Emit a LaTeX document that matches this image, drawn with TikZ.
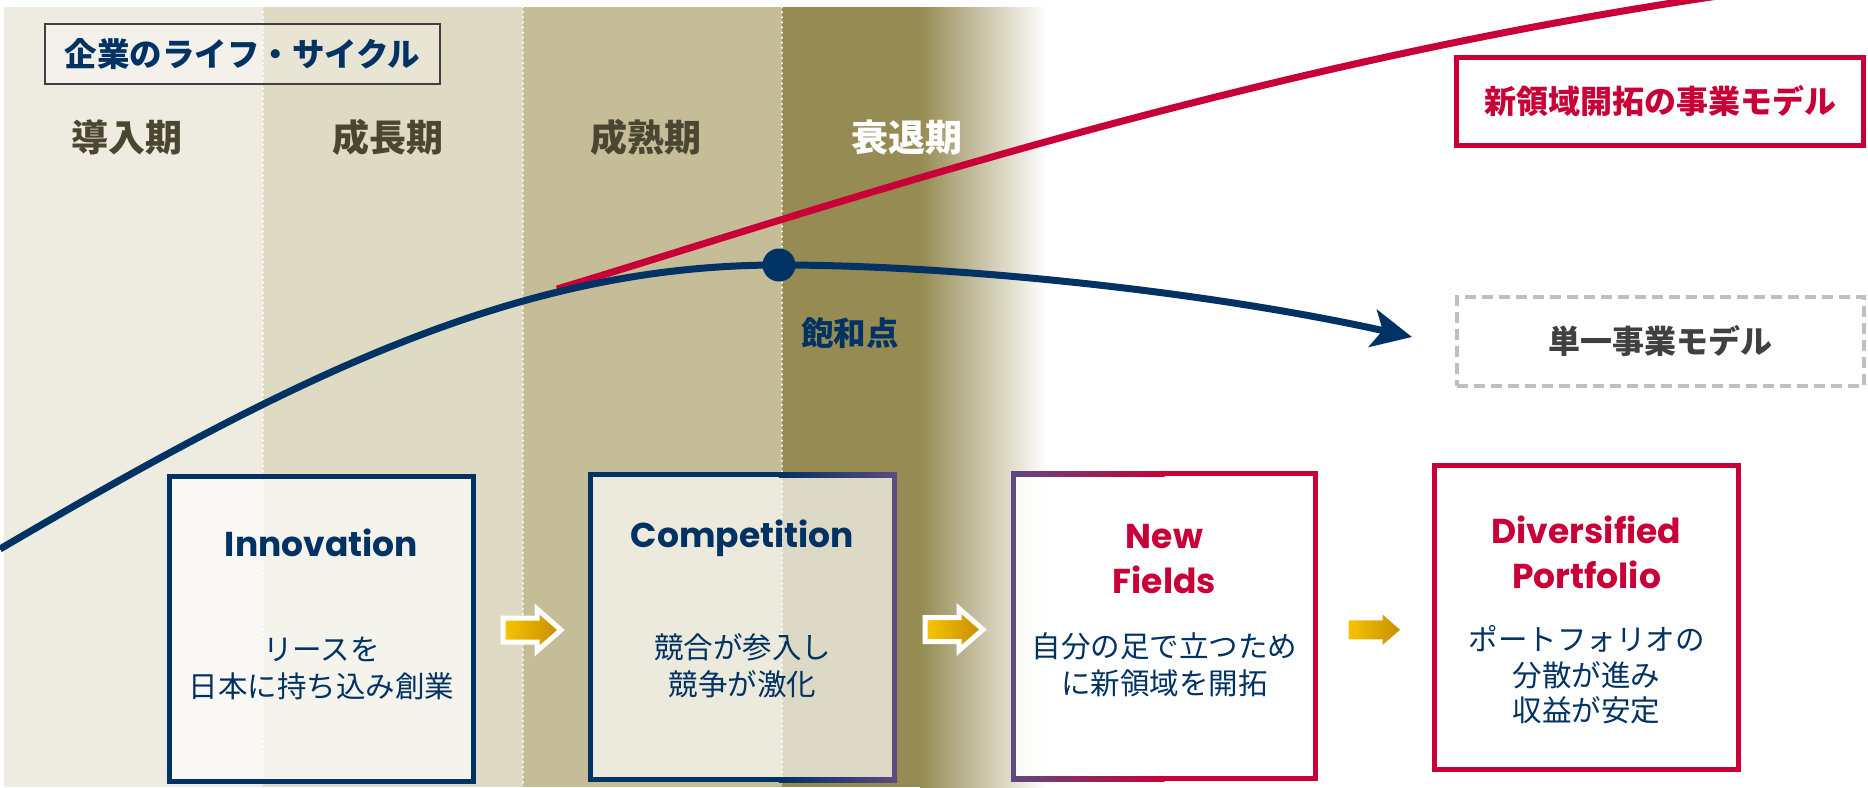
\documentclass[tikz,border=0pt]{standalone}
\usepackage{fontspec}
\newfontfamily\jp{Noto Sans CJK JP}
\newfontfamily\pop{Poppins}
\usetikzlibrary{arrows.meta,calc}
\definecolor{navy}{RGB}{0,50,100}
\definecolor{crim}{RGB}{200,0,55}
\definecolor{purp}{RGB}{92,74,128}
\definecolor{bandA}{RGB}{238,235,224}
\definecolor{bandB}{RGB}{223,218,196}
\definecolor{bandC}{RGB}{197,189,151}
\definecolor{bandD}{RGB}{150,139,83}
\definecolor{olive}{RGB}{75,70,50}
\definecolor{goldA}{RGB}{248,198,0}
\definecolor{goldB}{RGB}{196,140,0}
\definecolor{grayline}{RGB}{191,191,191}
\definecolor{graytext}{RGB}{64,64,64}
\tikzset{
  phase/.style={font=\jp\bfseries\fontsize{37}{44}\selectfont, text=olive, inner sep=0},
  descr/.style={font=\jp\fontsize{29.5}{37}\selectfont, text=navy, align=center, inner sep=0},
  etitle/.style={font=\pop\bfseries\fontsize{34.5}{45}\selectfont, align=center, inner sep=0},
  card/.style={minimum width=304pt, minimum height=305pt, line width=5pt, fill=white, fill opacity=0.68, inner sep=0, outer sep=0},
  sepline/.style={white, line width=2.5pt, line cap=round, dash pattern=on 0.1pt off 5pt},
  label/.style={font=\jp\bfseries\fontsize{32}{38}\selectfont, inner sep=0},
  goldarrow/.pic={\shade[left color=goldA, right color=goldB, draw=white, line width=5pt, line join=miter]
     (-29,-12) -- (5,-12) -- (5,-21) -- (29,0) -- (5,21) -- (5,12) -- (-29,12) -- cycle;}
}
\begin{document}
\begin{tikzpicture}[x=1pt,y=-1pt]
\useasboundingbox (0,0) rectangle (1868,787);
\clip (0,0) rectangle (1868,787);
% bands
\fill[bandA] (4,7) rectangle (263,787);
\fill[bandB] (263,7) rectangle (523,787);
\fill[bandC] (523,7) rectangle (782,787);
\fill[bandD] (782,7) rectangle (921,787);
\shade[left color=bandD, right color=white] (920,7) rectangle (1047,787);
\draw[sepline] (263,7) -- (263,787);
\draw[sepline] (523,7) -- (523,787);
\draw[sepline] (782,7) -- (782,787);
% title box
\node[draw=graytext, line width=2pt, fill=white, fill opacity=0.3, text opacity=1, minimum width=395pt, minimum height=60pt, label, font=\jp\bfseries\fontsize{32.5}{38}\selectfont, text=navy] (title) at (242.5,54) {企業のライフ・サイクル};
% phase labels
\node[phase] (p1) at (127,137) {導入期};
\node[phase] (p2) at (388,137) {成長期};
\node[phase] (p3) at (646,137) {成熟期};
\node[phase, text=white] (p4) at (907,137) {衰退期};
% curves
\coordinate (rstart) at (557,289);
\coordinate (rend) at (1760,-10);
\draw[crim, line width=7pt] (rstart) .. controls (800,216) and (1250,60) .. (rend);
\coordinate (bstart) at (0,549);
\coordinate (btip) at (1412,337);
\node[circle, fill=navy, minimum size=33pt, inner sep=0] (peak) at (779,265) {};
\draw[navy, line width=7pt, -{Stealth[length=40pt,width=38pt,inset=10pt]}] (bstart) .. controls (300,373) and (520,265) .. (peak.center) .. controls (950,265) and (1200,290) .. (btip);
\node[label, text=navy, font=\jp\bfseries\fontsize{32.5}{38}\selectfont] (sat) at (850,333) {飽和点};
% right labels
\node[draw=crim, line width=5pt, fill=white, minimum width=407pt, minimum height=88pt, label, text=crim] (newmodel) at (1660,101.5) {新領域開拓の事業モデル};
\node[draw=grayline, line width=4pt, dash pattern=on 11pt off 6pt, minimum width=407pt, minimum height=89pt, label, text=graytext] (single) at (1660,341.5) {単一事業モデル};
% cards
\node[card, draw=navy] (inno) at (321.5,629) {};
\node[card, draw=navy] (comp) at (742.5,627) {};
\shade[left color=navy, right color=purp] ($(comp.north west)!0.62!(comp.north east)+(0,-2.5)$) rectangle ($(comp.north east)+(2.5,2.5)$);
\shade[left color=navy, right color=purp] ($(comp.south west)!0.62!(comp.south east)+(0,-2.5)$) rectangle ($(comp.south east)+(2.5,2.5)$);
\fill[purp] ($(comp.north east)+(-2.5,-2.5)$) rectangle ($(comp.south east)+(2.5,2.5)$);
\node[card, draw=crim, fill opacity=0.85, minimum width=302pt] (newf) at (1164.5,626) {};
\fill[purp] ($(newf.north west)+(-2.5,-2.5)$) rectangle ($(newf.south west)+(2.5,2.5)$);
\shade[left color=purp, right color=crim] ($(newf.north west)+(-2.5,-2.5)$) rectangle ($(newf.north west)!0.5!(newf.north east)+(0,2.5)$);
\shade[left color=purp, right color=crim] ($(newf.south west)+(-2.5,-2.5)$) rectangle ($(newf.south west)!0.5!(newf.south east)+(0,2.5)$);
\node[card, draw=crim, fill opacity=1, minimum height=304pt] (divp) at (1586.5,617.5) {};
% card texts
\node[etitle, text=navy] (t1) at (321.5,543) {Innovation};
\node[descr] (d1) at (321.5,668.5) {リースを\\日本に持ち込み創業};
\node[etitle, text=navy] (t2) at (742.5,538) {Competition};
\node[descr] (d2) at (742.5,665.5) {競合が参入し\\競争が激化};
\node[etitle, text=crim] (t3) at (1164.5,559.5) {New\\Fields};
\node[descr] (d3) at (1164.5,664.5) {自分の足で立つため\\に新領域を開拓};
\node[etitle, text=crim] (t4) at (1586.5,552.5) {Diversified\\Portfolio};
\node[descr, font=\jp\fontsize{29.5}{35.5}\selectfont] (d4) at (1586.5,675) {ポートフォリオの\\分散が進み\\収益が安定};
% gold arrows
\pic at ($(inno.east)!0.5!(comp.west)+(0,2)$) {goldarrow};
\pic at ($(comp.east)!0.5!(newf.west)+(0,3)$) {goldarrow};
\pic at ($(newf.east)!0.5!(divp.west)+(0,8)$) {goldarrow};
\end{tikzpicture}
\end{document}
